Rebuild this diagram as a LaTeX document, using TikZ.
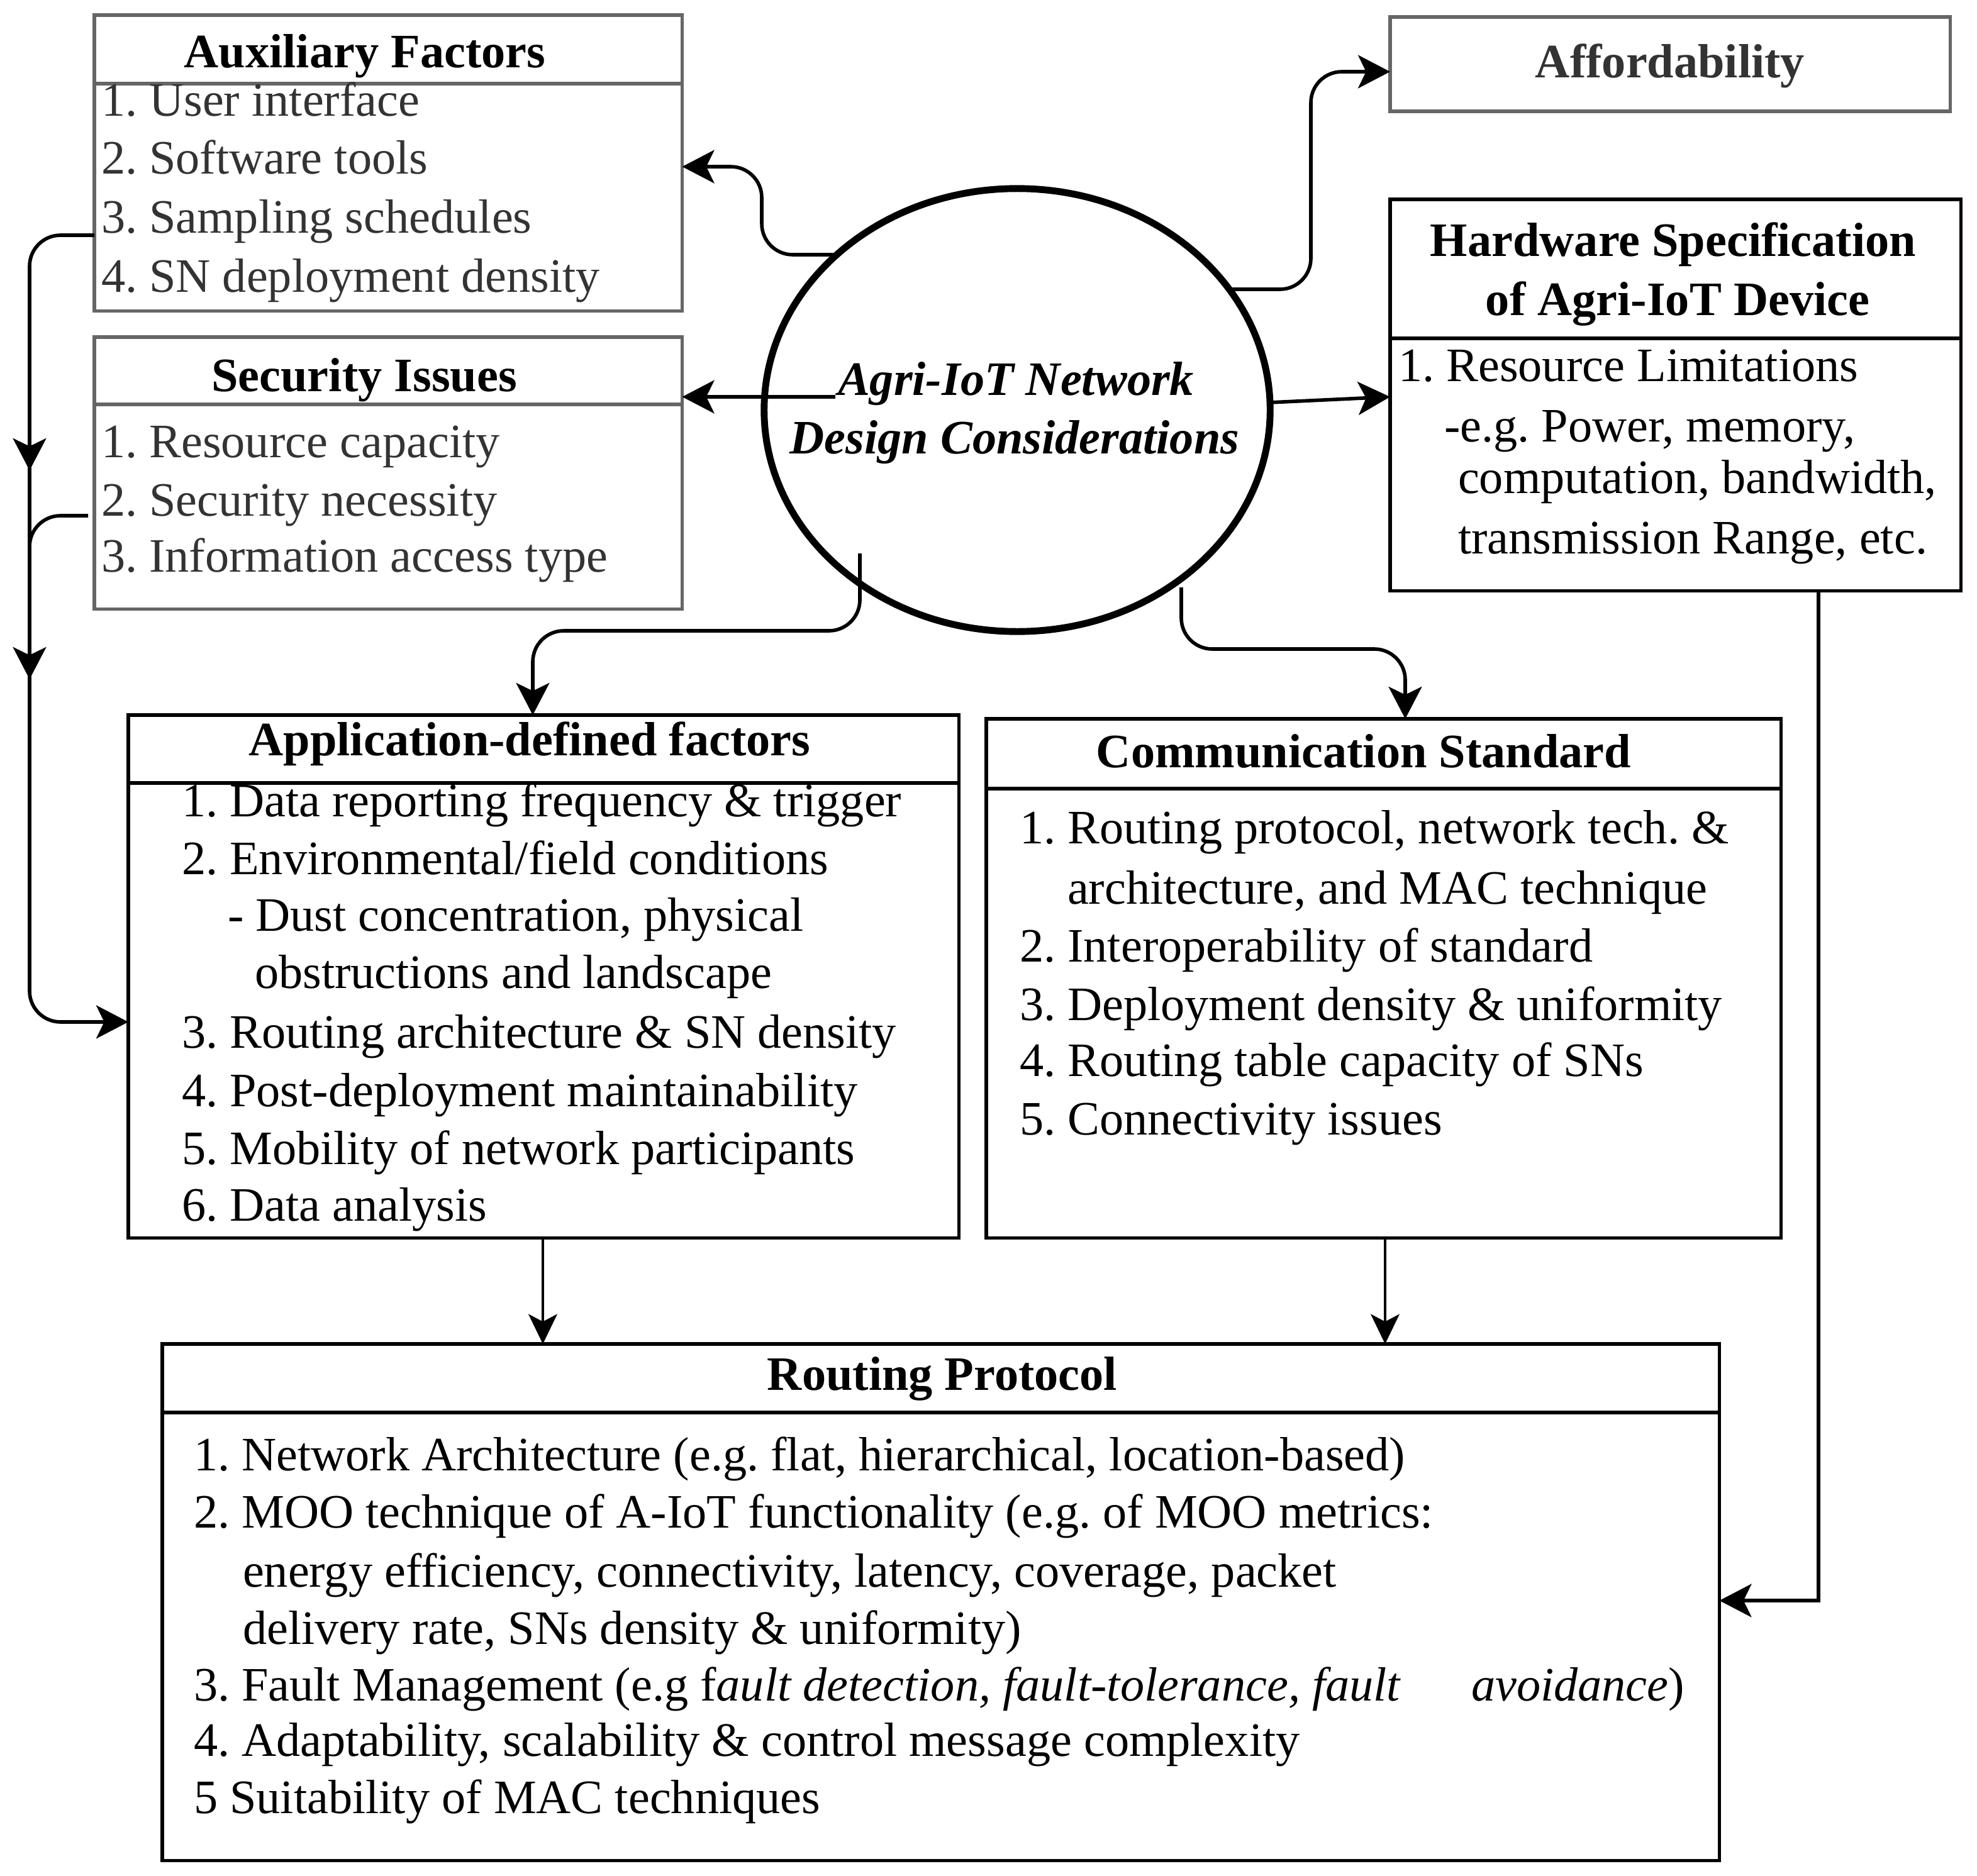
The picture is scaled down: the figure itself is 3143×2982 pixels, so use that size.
\documentclass[tikz,border=0pt]{standalone}
\usepackage{fontspec}
\setmainfont{Liberation Serif}
\usetikzlibrary{arrows.meta,shapes.geometric}
\definecolor{gborder}{HTML}{666666}
\definecolor{gtext}{HTML}{333333}
\begin{document}
\frenchspacing
\begin{tikzpicture}[x=0.01cm,y=-0.01cm,
  every node/.style={inner sep=0pt, outer sep=0pt},
  fs/.style={font=\fontsize{21.7pt}{26pt}\selectfont\frenchspacing},
  txt/.style={fs, anchor=base west},
  gtxt/.style={txt, text=gtext},
  ttl/.style={font=\fontsize{21.7pt}{26pt}\selectfont\bfseries\frenchspacing, anchor=base},
  etxt/.style={font=\fontsize{21.7pt}{26pt}\selectfont\bfseries\itshape, anchor=base},
  gbox/.style={draw=gborder, line width=1.5pt, anchor=north west},
  bbox/.style={draw=black, line width=1.5pt, anchor=north west},
  gsep/.style={draw=gborder, line width=1.5pt},
  bsep/.style={draw=black, line width=1.5pt},
  arr/.style={line width=1.6pt, rounded corners=14pt, -{Stealth[length=14.5pt, width=15pt, inset=3.6pt]}},
  thinarr/.style={line width=1.2pt, -{Stealth[length=13.5pt, width=13pt, inset=3.4pt]}},
  con/.style={line width=1.6pt, rounded corners=14pt},
]
\useasboundingbox (0,0) rectangle (3143,2982);

% ---------- boxes ----------
\node[gbox, minimum width=9.34cm, minimum height=4.70cm] (aux) at (150,24) {};
\node[gbox, minimum width=9.34cm, minimum height=4.32cm] (sec) at (150,536) {};
\node[gbox, minimum width=8.90cm, minimum height=1.50cm] (aff) at (2210,27) {};
\node[bbox, minimum width=9.07cm, minimum height=6.22cm] (hw) at (2210,317) {};
\node[bbox, minimum width=13.20cm, minimum height=8.31cm] (app) at (204,1137) {};
\node[bbox, minimum width=12.63cm, minimum height=8.25cm] (com) at (1568,1143) {};
\node[bbox, minimum width=24.74cm, minimum height=8.21cm] (rout) at (258,2137) {};
\node[draw=black, line width=3.1pt, ellipse, minimum width=8.04cm, minimum height=7.04cm] (ell) at (1617,652) {};

% separators
\draw[gsep] (aux.west |- 0,133) -- (aux.east |- 0,133);
\draw[gsep] (sec.west |- 0,643) -- (sec.east |- 0,643);
\draw[bsep] (hw.west |- 0,538) -- (hw.east |- 0,538);
\draw[bsep] (app.west |- 0,1245) -- (app.east |- 0,1245);
\draw[bsep] (com.west |- 0,1254) -- (com.east |- 0,1254);
\draw[bsep] (rout.west |- 0,2246) -- (rout.east |- 0,2246);

% ---------- texts ----------
\node[ttl] (auxt) at (580,108) {Auxiliary Factors};
\node[gtxt] (a1) at (161,185) {1. User interface};
\node[gtxt] (a2) at (161,277) {2. Software tools};
\node[gtxt] (a3) at (161,371) {3. Sampling schedules};
\node[gtxt] (a4) at (161,464) {4. SN deployment density};

\node[ttl] (sect) at (579,622) {Security Issues};
\node[gtxt] (s1) at (161,727) {1. Resource capacity};
\node[gtxt] (s2) at (161,820) {2. Security necessity};
\node[gtxt] (s3) at (161,909) {3. Information access type};

\node[ttl, text=gtext] (afft) at (2655,124) {Affordability};

\node[ttl] (hwt1) at (2660,408) {Hardware Specification};
\node[ttl] (hwt2) at (2667,501) {of Agri-IoT Device};
\node[txt] (h1) at (2223,606) {1. Resource Limitations};
\node[txt] (h2) at (2296,702) {-e.g. Power, memory,};
\node[txt] (h3) at (2318,784) {computation, bandwidth,};
\node[txt] (h4) at (2318,880) {transmission Range, etc.};

\node[etxt] (e1) at (1615,628) {Agri-IoT Network};
\node[etxt] (e2) at (1613,721) {Design Considerations};

\node[ttl] (appt) at (842,1201) {Application-defined factors};
\node[txt] (p1) at (289,1298) {1. Data reporting frequency \& trigger};
\node[txt] (p2) at (289,1390) {2. Environmental/field conditions};
\node[txt] (p3) at (362,1480) {- Dust concentration, physical};
\node[txt] (p4) at (405,1571) {obstructions and landscape};
\node[txt] (p5) at (289,1666) {3. Routing architecture \& SN density};
\node[txt] (p6) at (289,1759) {4. Post-deployment maintainability};
\node[txt] (p7) at (289,1851) {5. Mobility of network participants};
\node[txt] (p8) at (289,1941) {6. Data analysis};

\node[ttl] (comt) at (2168,1220) {Communication Standard};
\node[txt] (c1) at (1621,1341) {1. Routing protocol, network tech. \&};
\node[txt] (c2) at (1697,1437) {architecture, and MAC technique};
\node[txt] (c3) at (1621,1529) {2. Interoperability of standard};
\node[txt] (c4) at (1621,1622) {3. Deployment density \& uniformity};
\node[txt] (c5) at (1621,1711) {4. Routing table capacity of SNs};
\node[txt] (c6) at (1621,1804) {5. Connectivity issues};

\node[ttl] (routt) at (1498,2210) {Routing Protocol};
\node[txt] (r1) at (308,2338) {1. Network Architecture (e.g. flat, hierarchical, location-based)};
\node[txt] (r2) at (308,2429) {2. MOO technique of A-IoT functionality (e.g. of MOO metrics:};
\node[txt] (r3) at (386,2523) {energy efficiency, connectivity, latency, coverage, packet};
\node[txt] (r4) at (386,2614) {delivery rate, SNs density \& uniformity)};
\node[txt] (r5) at (308,2704) {3. Fault Management (e.g f\textit{ault detection, fault-tolerance, fault}};
\node[txt] (r5b) at (2339,2704) {\textit{avoidance})};
\node[txt] (r6) at (308,2792) {4. Adaptability, scalability \& control message complexity};
\node[txt] (r7) at (308,2883) {5 Suitability of MAC techniques};

% ---------- connector coordinates ----------
\coordinate (eAux) at (1330,405);
\coordinate (eSec) at (1328,631);
\coordinate (eAff) at (1956,460);
\coordinate (eHw) at (2019,640);
\coordinate (eApp) at (1367,880);
\coordinate (eCom) at (1878,934);
\coordinate (lx) at (47,0);
\coordinate (secL) at (140,820);

% ---------- connectors ----------
\draw[arr] (eAux) -- (1211,405) -- (1211,265) -- (aux.east |- 0,265);
\draw[arr] (eSec) -- (sec.east |- eSec);
\draw[arr] (eAff) -- (2084,460) -- (2084,114) -- (aff.west |- 0,114);
\draw[arr] (eHw) -- (hw.west |- 0,631);
\draw[arr] (eApp) -- (1367,1003) -- (847,1003) -- (app.north -| 847,0);
\draw[arr] (eCom) -- (1878,1032) -- (2234,1032) -- (com.north -| 2234,0);
\draw[line width=1.6pt, -{Stealth[length=14.5pt, width=15pt, inset=3.6pt]}] (hw.south -| 2891,0) -- (2891,2545) -- (rout.east |- 0,2545);
\draw[thinarr] (app.south -| 863,0) -- (rout.north -| 863,0);
\draw[thinarr] (com.south -| 2202,0) -- (rout.north -| 2202,0);

% left feedback line
\draw[arr] (aux.west |- 0,374) -- (lx |- 0,374) -- (lx |- 0,1625) -- (app.west |- 0,1625);
\draw[con] (secL) -- (lx |- secL) -- (lx |- 0,900);
\draw[arr] (lx |- 0,700) -- (lx |- 0,748);
\draw[arr] (lx |- 0,1030) -- (lx |- 0,1080);
\end{tikzpicture}
\end{document}
